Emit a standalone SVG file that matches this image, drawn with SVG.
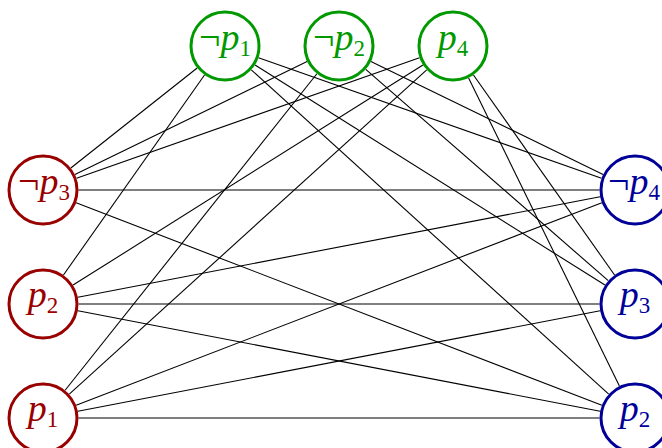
<svg xmlns="http://www.w3.org/2000/svg" width="662" height="448" viewBox="0 0 662 448">
<style>
.e line { stroke: #000; stroke-width: 1.1; }
.n circle { fill: #fff; stroke-width: 3; }
.g circle { stroke: #009900; } .g text { fill: #009900; }
.r circle { stroke: #990000; } .r text { fill: #990000; }
.b circle { stroke: #000099; } .b text { fill: #000099; }
text { font-family: "Liberation Serif", "Times New Roman", serif; font-size: 38px; text-anchor: middle; }
.i { font-style: italic; }
.s { font-size: 23px; }
</style>
<rect width="662" height="448" fill="#fff"/>
<g id="edges" class="e">
<line x1="70.84" y1="167.97" x2="197.16" y2="68.03"/>
<line x1="74.92" y1="174.47" x2="307.08" y2="61.53"/>
<line x1="76.49" y1="178.24" x2="419.51" y2="57.76"/>
<line x1="63.46" y1="274.99" x2="204.54" y2="75.01"/>
<line x1="73.05" y1="285.09" x2="422.95" y2="64.91"/>
<line x1="65.10" y1="390.22" x2="316.90" y2="73.78"/>
<line x1="69.29" y1="394.15" x2="426.71" y2="69.85"/>
<line x1="258.49" y1="57.76" x2="601.51" y2="178.24"/>
<line x1="255.05" y1="64.91" x2="604.95" y2="285.09"/>
<line x1="251.29" y1="69.85" x2="608.71" y2="394.15"/>
<line x1="370.92" y1="61.53" x2="603.08" y2="174.47"/>
<line x1="365.76" y1="69.33" x2="608.24" y2="280.67"/>
<line x1="473.46" y1="75.01" x2="614.54" y2="274.99"/>
<line x1="468.60" y1="77.89" x2="619.40" y2="386.11"/>
<line x1="78.5" y1="190" x2="599.5" y2="190"/>
<line x1="76.13" y1="202.76" x2="601.87" y2="405.24"/>
<line x1="77.86" y1="297.29" x2="600.14" y2="196.71"/>
<line x1="78.5" y1="304" x2="599.5" y2="304"/>
<line x1="77.86" y1="310.71" x2="600.14" y2="411.29"/>
<line x1="76.13" y1="405.24" x2="601.87" y2="202.76"/>
<line x1="77.86" y1="411.29" x2="600.14" y2="310.71"/>
<line x1="78.5" y1="418" x2="599.5" y2="418"/>
</g>
<g id="top-not-p1" class="n g"><circle cx="225" cy="46" r="34"/><text x="225" y="50">¬<tspan class="i">p</tspan><tspan class="s" dy="6">1</tspan></text></g>
<g id="top-not-p2" class="n g"><circle cx="339" cy="46" r="34"/><text x="339" y="50">¬<tspan class="i">p</tspan><tspan class="s" dy="6">2</tspan></text></g>
<g id="top-p4" class="n g"><circle cx="453" cy="46" r="34"/><text x="453" y="50"><tspan class="i">p</tspan><tspan class="s" dy="6">4</tspan></text></g>
<g id="left-not-p3" class="n r"><circle cx="43" cy="190" r="34"/><text x="44" y="194">¬<tspan class="i">p</tspan><tspan class="s" dy="6">3</tspan></text></g>
<g id="left-p2" class="n r"><circle cx="43" cy="304" r="34"/><text x="43" y="307"><tspan class="i">p</tspan><tspan class="s" dy="6">2</tspan></text></g>
<g id="left-p1" class="n r"><circle cx="43" cy="418" r="34"/><text x="43" y="421"><tspan class="i">p</tspan><tspan class="s" dy="6">1</tspan></text></g>
<g id="right-not-p4" class="n b"><circle cx="635" cy="190" r="34"/><text x="634" y="194">¬<tspan class="i">p</tspan><tspan class="s" dy="6">4</tspan></text></g>
<g id="right-p3" class="n b"><circle cx="635" cy="304" r="34"/><text x="635" y="307"><tspan class="i">p</tspan><tspan class="s" dy="6">3</tspan></text></g>
<g id="right-p2" class="n b"><circle cx="635" cy="418" r="34"/><text x="635" y="421"><tspan class="i">p</tspan><tspan class="s" dy="6">2</tspan></text></g>
</svg>
